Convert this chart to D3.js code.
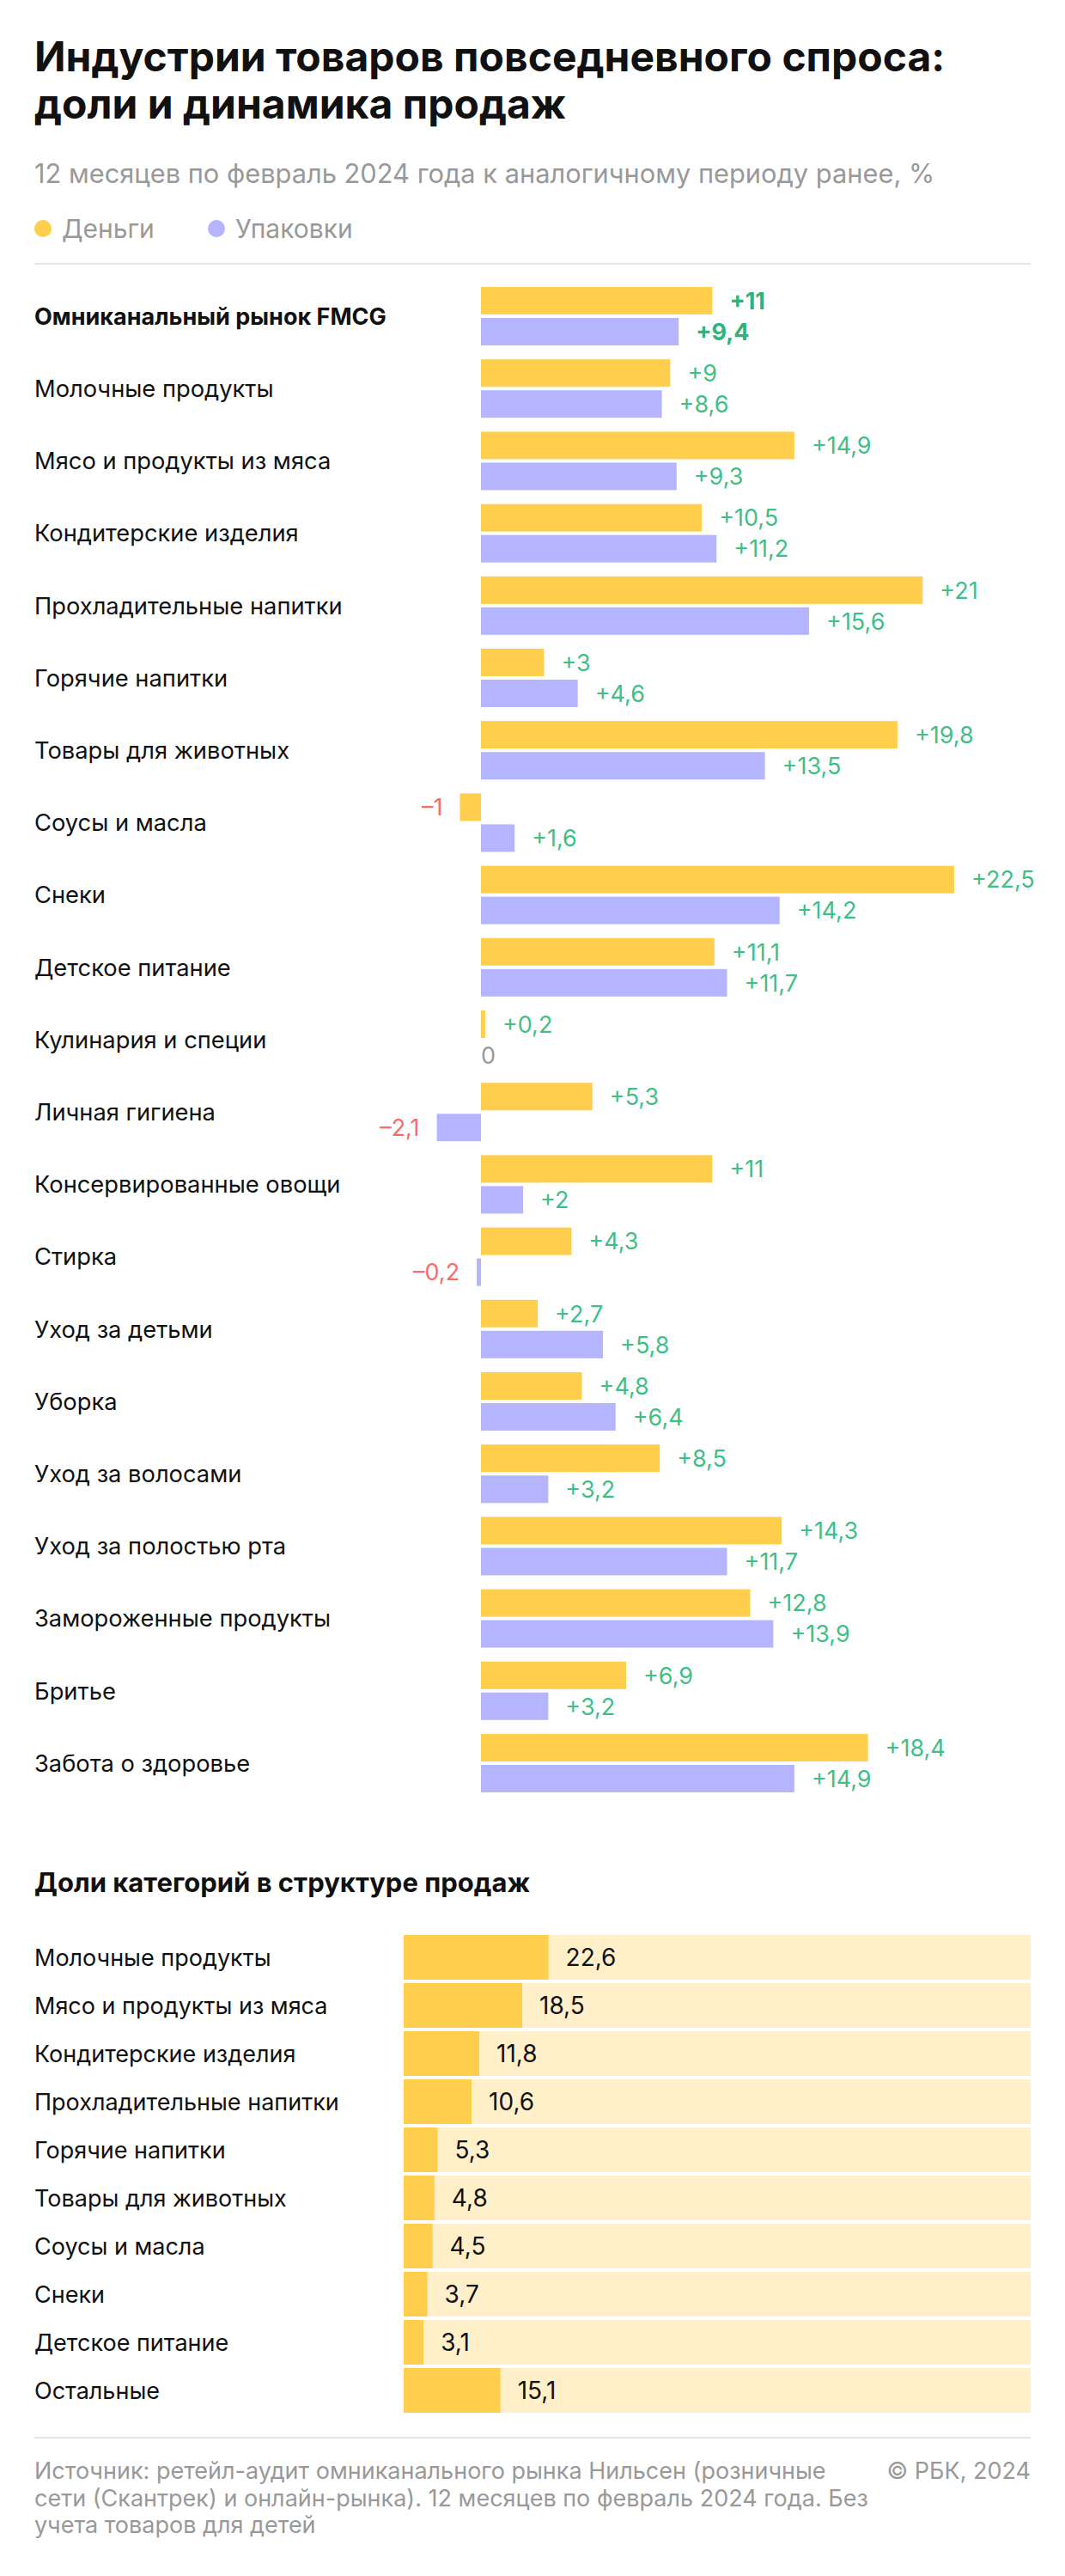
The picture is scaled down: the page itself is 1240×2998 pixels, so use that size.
<!DOCTYPE html>
<html><head><meta charset="utf-8">
<script src="https://cdn.jsdelivr.net/npm/d3@7"></script>
<style>
html,body{margin:0;padding:0;background:#fff;}
svg{display:block;font-family:Inter,"Noto Sans",sans-serif;}
</style></head>
<body>
<script>
const categories = ["Омниканальный рынок FMCG","Молочные продукты","Мясо и продукты из мяса","Кондитерские изделия","Прохладительные напитки","Горячие напитки","Товары для животных","Соусы и масла","Снеки","Детское питание","Кулинария и специи","Личная гигиена","Консервированные овощи","Стирка","Уход за детьми","Уборка","Уход за волосами","Уход за полостью рта","Замороженные продукты","Бритье","Забота о здоровье"];
const money = [11,9,14.9,10.5,21,3,19.8,-1,22.5,11.1,0.2,5.3,11,4.3,2.7,4.8,8.5,14.3,12.8,6.9,18.4];
const packs = [9.4,8.6,9.3,11.2,15.6,4.6,13.5,1.6,14.2,11.7,0,-2.1,2,-0.2,5.8,6.4,3.2,11.7,13.9,3.2,14.9];
const seriesNames = ["Деньги","Упаковки"];
const shareCategories = ["Молочные продукты","Мясо и продукты из мяса","Кондитерские изделия","Прохладительные напитки","Горячие напитки","Товары для животных","Соусы и масла","Снеки","Детское питание","Остальные"];
const shareValues = [22.6,18.5,11.8,10.6,5.3,4.8,4.5,3.7,3.1,15.1];

const W = 1240, H = 2998;
const YEL = "#ffce4c", PUR = "#b5b5ff", LIGHT = "#fff0c9", GREEN = "#3fbf87", RED = "#fb6b6b", GREY = "#999999", DARK = "#111111";
const svg = d3.select("body").append("svg").attr("width", W).attr("height", H);

// Header
svg.append("text").attr("x",40).attr("y",83).attr("font-size",48).attr("font-weight",700).attr("fill",DARK).text("Индустрии товаров повседневного спроса:");
svg.append("text").attr("x",40).attr("y",138).attr("font-size",48).attr("font-weight",700).attr("fill",DARK).text("доли и динамика продаж");
svg.append("text").attr("x",40).attr("y",213).attr("font-size",30.8).attr("fill",GREY).text("12 месяцев по февраль 2024 года к аналогичному периоду ранее, %");

const legend = [{name:seriesNames[0],c:YEL,x:50},{name:seriesNames[1],c:PUR,x:252}];
legend.forEach(l=>{
  svg.append("circle").attr("cx",l.x).attr("cy",266).attr("r",10).attr("fill",l.c);
  svg.append("text").attr("x",l.x+22).attr("y",277).attr("font-size",30).attr("fill",GREY).text(l.name);
});
svg.append("rect").attr("x",40).attr("y",306).attr("width",1160).attr("height",2).attr("fill","#e6e6e6");

// Section 1
const fmt = v => (v>0?"+":v<0?"–":"") + String(Math.abs(v)).replace(".",",");
const x = d3.scaleLinear().domain([0,22.5]).range([560,1111]);
const y = d3.scaleBand().domain(categories).range([334, 334+84.2*21]).paddingInner(0).paddingOuter(0);
const barH = 32, gap = 4;
const g1 = svg.append("g");
categories.forEach((c,i)=>{
  const top = y(c);
  const bold = i===0;
  g1.append("text").attr("x",40).attr("y",top+barH+gap/2).attr("dy","0.36em")
    .attr("font-size",bold?27:27.3).attr("font-weight",bold?700:400).attr("fill",DARK).text(c);
  [[money[i],YEL,0],[packs[i],PUR,1]].forEach(([v,col,k])=>{
    const by = top + k*(barH+gap);
    const x0 = x(Math.min(0,v)), x1 = x(Math.max(0,v));
    if (v!==0) g1.append("rect").attr("x",x0).attr("y",by).attr("width",x1-x0).attr("height",barH).attr("fill",col);
    const t = g1.append("text").attr("y",by+barH/2).attr("dy","0.36em").attr("font-size",27)
      .attr("font-weight",bold?700:400).text(fmt(v));
    if (v>0) t.attr("x",x(v)+20).attr("fill",bold?"#2fb37a":GREEN);
    else if (v<0) t.attr("x",x(v)-20).attr("text-anchor","end").attr("fill",RED);
    else t.attr("x",x(0)).attr("fill",GREY);
  });
});

// Section 2
svg.append("text").attr("x",40).attr("y",2202).attr("font-size",31).attr("font-weight",700).attr("fill",DARK).text("Доли категорий в структуре продаж");
const xs = d3.scaleLinear().domain([0,100]).range([470,1216]);
const ys = d3.scaleBand().domain(shareCategories).range([2252, 2252+56*10]);
const g2 = svg.append("g");
shareCategories.forEach((c,i)=>{
  const top = ys(c);
  g2.append("rect").attr("x",xs(0)).attr("y",top).attr("width",1200-xs(0)).attr("height",52).attr("fill",LIGHT);
  g2.append("rect").attr("x",xs(0)).attr("y",top).attr("width",xs(shareValues[i])-xs(0)).attr("height",52).attr("fill",YEL);
  g2.append("text").attr("x",40).attr("y",top+26).attr("dy","0.36em").attr("font-size",27).attr("fill",DARK).text(c);
  g2.append("text").attr("x",xs(shareValues[i])+20).attr("y",top+26).attr("dy","0.36em").attr("font-size",28).attr("fill",DARK).text(String(shareValues[i]).replace(".",","));
});

// Footer
svg.append("rect").attr("x",40).attr("y",2836).attr("width",1160).attr("height",2).attr("fill","#e6e6e6");
const foot = ["Источник: ретейл-аудит омниканального рынка Нильсен (розничные","сети (Скантрек) и онлайн-рынка). 12 месяцев по февраль 2024 года. Без","учета товаров для детей"];
foot.forEach((l,i)=>svg.append("text").attr("x",40).attr("y",2885+i*31.5).attr("font-size",27).attr("fill",GREY).text(l));
svg.append("text").attr("x",1200).attr("y",2885).attr("text-anchor","end").attr("font-size",27).attr("fill",GREY).text("© РБК, 2024");
</script>
</body></html>
